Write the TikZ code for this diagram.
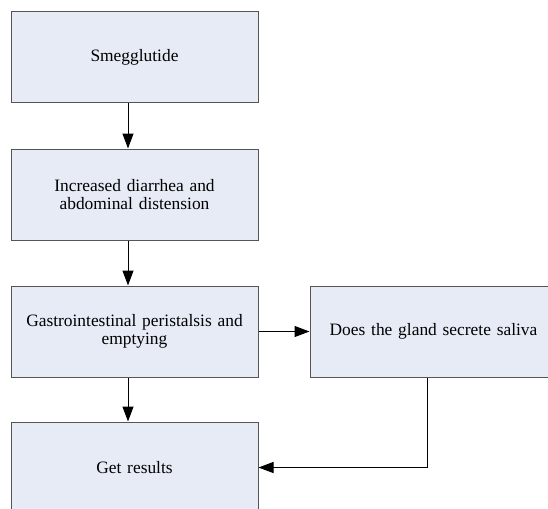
\documentclass[tikz,border=0pt]{standalone}
\usepackage{fontspec}
\setmainfont{Liberation Serif}
\usepackage{tikz}
\usetikzlibrary{arrows.meta}

\definecolor{boxfill}{RGB}{230,235,246}
\definecolor{boxline}{RGB}{85,85,85}

\begin{document}
\begin{tikzpicture}[
        x=1pt, y=1pt,
        step box/.style={rectangle, draw=boxline, fill=boxfill, line width=1pt, text centered, text width=240pt, minimum width=247pt, minimum height=91pt, inner sep=0pt, font=\fontsize{17.4}{18}\selectfont, align=center},
        link/.style={-{Triangle[length=15pt, width=11pt]}, line width=1pt},
    ]
        \useasboundingbox (0,0) rectangle (548,-508);
        \clip (0,0) rectangle (548,-508);

        \node[step box] (smeg) at (134.5,-57.5) {Smegglutide};
        \node[step box] (diarrhea) at (134.5,-194.5) {Increased diarrhea and\\abdominal distension};
        \node[step box] (gastro) at (134.5,-331.5) {Gastrointestinal peristalsis and\\emptying};
        \node[step box] (results) at (134.5,-467.5) {Get results};
        \node[step box] (saliva) at (433.5,-331.5) {Does the gland secrete saliva};

        \draw[link] ([xshift=-6.5pt]smeg.south) -- ([xshift=-6.5pt]diarrhea.north);
        \draw[link] ([xshift=-6.5pt]diarrhea.south) -- ([xshift=-6.5pt]gastro.north);
        \draw[link] ([xshift=-6.5pt]gastro.south) -- ([xshift=-6.5pt]results.north);
        \draw[link] (gastro.east) -- (saliva.west);
        \draw[link] ([xshift=-6.5pt]saliva.south) |- (results.east);
    \end{tikzpicture}
\end{document}
